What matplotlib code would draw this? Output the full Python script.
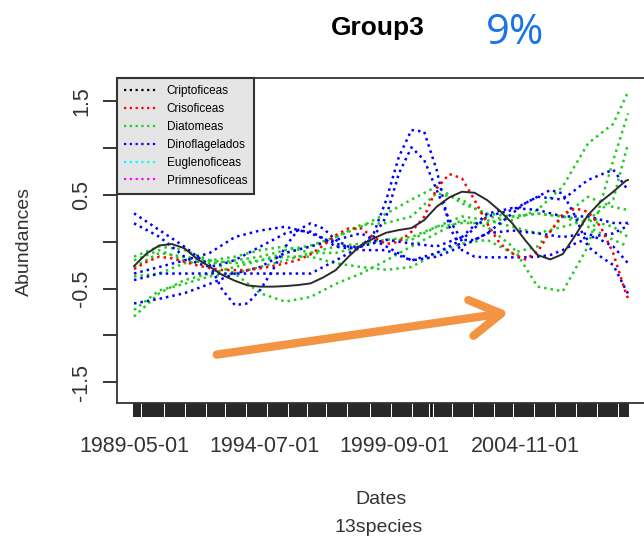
import numpy as np
import pandas as pd
import matplotlib
matplotlib.use("Agg")
import matplotlib.pyplot as plt
from matplotlib.lines import Line2D

plt.rcParams['font.family'] = ['Liberation Sans', 'DejaVu Sans']

# fechas de muestreo: cada 12 meses y cada 6 meses (+ ultimo mes)
fechas = list(pd.date_range("1989-05-01", periods=20, freq="12MS")) + [pd.Timestamp("2008-12-01")]
fechas6 = list(pd.date_range("1989-05-01", periods=40, freq="6MS")) + [pd.Timestamp("2008-12-01")]
meses = pd.date_range("1989-05-01", "2008-12-01", freq="MS")
etiquetas_x = ["1989-05-01", "1994-07-01", "1999-09-01", "2004-11-01"]

grupos = ["Criptoficeas", "Crisoficeas", "Diatomeas", "Dinoflagelados", "Euglenoficeas", "Primnesoficeas"]
colores = ["black", "#ff0000", "#22cc22", "#0000ff", "#00ffff", "#ff00ff"]

cripto = [-0.26, -0.125, -0.04, -0.025, -0.07, -0.185, -0.267, -0.356, -0.417, -0.467,
          -0.48, -0.48, -0.474, -0.463, -0.445, -0.381, -0.303, -0.16, -0.036, 0.036,
          0.096, 0.125, 0.146, 0.231, 0.374, 0.474, 0.534, 0.523, 0.445, 0.331,
          0.196, 0.018, -0.142, -0.189, -0.132, 0.071, 0.285, 0.427, 0.534, 0.652, 0.659]
criso = [-0.292, -0.214, -0.16, -0.178, -0.214, -0.253, -0.281, -0.303, -0.303, -0.303,
         -0.285, -0.26, -0.231, -0.196, -0.135, -0.039, 0.071, 0.142, 0.142, 0.046,
         -0.025, 0.0, 0.107, 0.267, 0.57, 0.723, 0.677, 0.445, 0.196, -0.018,
         -0.125, -0.189, -0.107, 0.107, 0.296, 0.356, 0.32, 0.16, -0.125, -0.552, -0.605]

diatomeas = [
    [-0.20, -0.09, -0.20, -0.23, -0.20, -0.16, -0.09, -0.04, 0.05, 0.18, 0.20,
     0.27, 0.52, 0.45, 0.27, 0.23, 0.34, 0.59, 1.05, 1.26, 1.60],
    [-0.27, -0.12, -0.16, -0.20, -0.34, -0.55, -0.64, -0.59, -0.45, -0.34, -0.20,
     -0.05, 0.09, 0.23, 0.16, -0.05, -0.48, -0.53, -0.05, 0.87, 1.37],
    [-0.80, -0.55, -0.41, -0.34, -0.27, -0.20, -0.12, -0.05, 0.05, 0.16, 0.30,
     0.45, 0.59, 0.41, 0.30, 0.27, 0.30, 0.27, 0.23, 0.16, 0.05],
    [-0.73, -0.52, -0.45, -0.37, -0.34, -0.27, -0.20, -0.12, -0.05, -0.02, 0.02,
     0.05, 0.16, 0.27, 0.23, 0.16, 0.09, 0.16, 0.23, 0.45, 1.05],
    [-0.37, -0.34, -0.23, -0.20, -0.23, -0.20, -0.16, -0.16, -0.23, -0.27, -0.30,
     -0.27, -0.12, -0.02, 0.02, -0.12, -0.05, 0.27, 0.48, 0.37, 0.34],
    [-0.16, -0.05, -0.09, -0.20, -0.16, -0.09, -0.05, -0.12, -0.12, -0.05, 0.02,
     0.02, 0.16, 0.20, 0.20, 0.27, 0.30, 0.27, 0.16, 0.02, -0.05],
]

# dinoflagelados con picos (serie semestral)
dino_picos = [
    [0.303, 0.214, 0.125, 0.036, -0.053, -0.16, -0.249, -0.516, -0.677, -0.659,
     -0.516, -0.303, -0.053, 0.125, 0.196, 0.142, 0.018, -0.053, -0.053, 0.089,
     0.445, 0.908, 1.193, 1.175, 0.766, 0.16, -0.089, -0.16, -0.167, -0.167,
     -0.167, -0.167, -0.16, -0.142, -0.089, -0.018, 0.036, 0.071, 0.089, 0.16, 0.196],
    [0.196, 0.125, 0.053, -0.053, -0.16, -0.231, -0.267, -0.239, -0.196, -0.125,
     -0.053, 0.018, 0.089, 0.118, 0.107, 0.036, -0.053, -0.071, -0.053, 0.053,
     0.267, 0.73, 1.008, 0.873, 0.552, 0.231, 0.018, 0.018, 0.089, 0.196,
     0.303, 0.41, 0.481, 0.552, 0.516, 0.267, -0.053, -0.16, -0.249, -0.516, -0.552],
]
dinoflag = [
    [-0.34, -0.27, -0.20, -0.12, 0.05, 0.12, 0.16, 0.09, -0.02, -0.09, -0.09,
     -0.20, -0.12, 0.02, 0.27, 0.34, 0.48, 0.45, 0.66, 0.77, 0.55],
    [-0.41, -0.34, -0.34, -0.34, -0.34, -0.34, -0.34, -0.34, -0.20, -0.05, 0.02,
     -0.02, -0.05, 0.05, 0.30, 0.36, 0.34, 0.27, 0.27, 0.20, 0.20],
    [-0.66, -0.61, -0.55, -0.45, -0.34, -0.27, -0.12, -0.05, 0.02, 0.09, -0.05,
     -0.20, -0.16, -0.05, 0.09, 0.12, 0.09, 0.05, 0.09, -0.05, -0.23],
]

W, H = 644, 540
fig = plt.figure(figsize=(W / 100, H / 100), dpi=100)
ax = fig.add_axes([117 / W, 1 - 403 / H, (648 - 117) / W, (403 - 78) / H])

punteado = (0, (1, 1.6))
for serie in diatomeas:
    ax.plot(fechas, serie, color=colores[2], lw=1.8, linestyle=punteado)
for serie in dinoflag:
    ax.plot(fechas, serie, color=colores[3], lw=1.8, linestyle=punteado)
for serie in dino_picos:
    ax.plot(fechas6, serie, color=colores[3], lw=1.8, linestyle=punteado)
ax.plot(fechas6, criso, color=colores[1], lw=1.8, linestyle=punteado)
ax.plot(fechas6, cripto, color="#2b2b2b", lw=1.4, zorder=5)

dias_mes = 30.44
ax.set_xlim(meses[0] - pd.Timedelta(days=8.1 * dias_mes), meses[-1] + pd.Timedelta(days=9.5 * dias_mes))
ax.set_ylim(-1.723, 1.749)

ax.set_xticks(meses)
ax.set_xticklabels([m.strftime("%Y-%m-%d") if m.strftime("%Y-%m-%d") in etiquetas_x else "" for m in meses])
ax.set_yticks([-1.5, -1.0, -0.5, 0, 0.5, 1.0, 1.5])
ax.set_yticklabels(["-1.5", "", "-0.5", "", "0.5", "", "1.5"], rotation=90, va="center")
ax.tick_params(axis="x", length=10, width=1.3, colors="#111111", labelsize=15.5, pad=14, labelcolor="#333333")
ax.tick_params(axis="y", length=10, width=1.1, labelsize=15.5, pad=8, labelcolor="#333333")
for s in ax.spines.values():
    s.set_linewidth(1.3)
    s.set_color("#333333")

manejadores = [Line2D([0], [0], color=c, lw=1.6, linestyle=punteado) for c in colores]
leg = ax.legend(manejadores, grupos, loc="upper left", bbox_to_anchor=(0, 1), borderaxespad=0,
                fontsize=8.5, handlelength=2.8, labelspacing=0.5, fancybox=False, framealpha=1,
                borderpad=0.6, handletextpad=0.8)
leg.get_frame().set_facecolor("#e5e5e5")
leg.get_frame().set_edgecolor("#333333")
leg.get_frame().set_linewidth(1.5)

fig.text(378 / W, 1 - 35 / H, "Group3", fontsize=19, fontweight="bold", ha="center", va="baseline")
fig.text(515 / W, 1 - 33 / H, "9%", fontsize=30, color="#1a73e8", ha="center", va="center",
         family=["Open Sans", "DejaVu Sans"])
fig.text(381 / W, 1 - 500 / H, "Dates", fontsize=14, ha="center", va="center", color="#333333")
fig.text(379 / W, 1 - 528 / H, "13species", fontsize=14, ha="center", va="center", color="#333333")
fig.text(24 / W, 1 - 242 / H, "Abundances", fontsize=14, rotation=90, ha="center", va="center", color="#333333")

# flecha naranja
fig.add_artist(matplotlib.patches.FancyArrowPatch(
    (214 / W, 1 - 355 / H), (512 / W, 1 - 312 / H), transform=fig.transFigure,
    arrowstyle="->,head_length=1.1,head_width=0.65", mutation_scale=20,
    color="#f39443", lw=6, capstyle="round", joinstyle="round"))

fig.savefig("out.png", dpi=100)
